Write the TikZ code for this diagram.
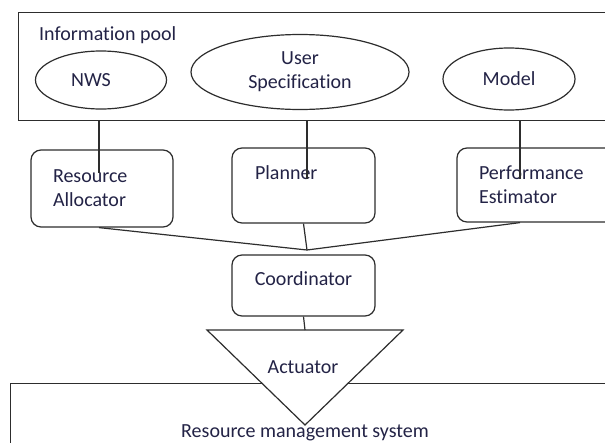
\documentclass[tikz,border=0pt]{standalone}
\usepackage{fontspec}
\setmainfont[Ligatures=NoCommon]{Carlito}
\usetikzlibrary{shapes.geometric}
\definecolor{txtcol}{RGB}{35,35,70}
\definecolor{lncol}{RGB}{45,45,45}
\begin{document}
\begin{tikzpicture}[x=1pt,y=-1pt,
  every node/.style={font=\fontsize{20}{24}\selectfont, text=txtcol},
  ln/.style={draw=lncol, line width=1.2pt},
  pool/.style={ln, rectangle, inner sep=0pt, anchor=north west},
  oval/.style={ln, ellipse, inner sep=0pt, align=center},
  rbox/.style={ln, rectangle, rounded corners=10pt, align=left, inner ysep=3pt},
  plain/.style={inner sep=0pt}
]
\clip (0,0) rectangle (605,442);
\fill[white] (0,0) rectangle (605,442);

% information pool
\node[pool, minimum width=600pt, minimum height=108pt] (pool) at (18,12) {};
\node[plain, anchor=base west] (pooltxt) at (39,40) {Information pool};
\node[oval, minimum width=131pt, minimum height=58pt] (nws) at (101,80) {NWS\hspace{20pt}};
\node[oval, minimum width=218pt, minimum height=75pt] (spec) at (300,72) {User\\Specification};
\node[oval, minimum width=132pt, minimum height=62pt] (model) at (509,79) {Model};

% middle boxes
\node[rbox, text width=98pt, inner xsep=22pt, minimum height=77pt] (ra) at (102,188.5) {Resource\\Allocator};
\node[rbox, text width=97pt, inner xsep=23pt, minimum height=75pt, text depth=25pt] (pl) at (303.5,185.5) {Planner};
\node[rbox, text width=116pt, inner xsep=22pt, minimum height=74pt] (pe) at (537,185) {Performance\\Estimator};
\node[rbox, align=center, minimum width=143pt, minimum height=61pt, text depth=13pt] (co) at (303.5,285.5) {Coordinator};

% vertical links from the pool
\coordinate (t1) at (99,173);
\coordinate (t2) at (307,179);
\coordinate (t3) at (520,179);
\draw[ln] (pool.south -| t1) -- (t1);
\draw[ln] (pool.south -| t2) -- (t2);
\draw[ln] (pool.south -| t3) -- (t3);

% converging links
\coordinate (J) at (307,250);
\draw[ln] (ra.south -| t1) -- (J);
\draw[ln] (pl.south) -- (J);
\draw[ln] (pe.south -| t3) -- (J);

% resource management system
\node[pool, minimum width=620pt, minimum height=100pt] (rms) at (10,383) {};
\node[plain, anchor=base] (rmstxt) at (305,437) {Resource management system};

% actuator
\coordinate (tl) at (207,330);
\coordinate (tr) at (403,330);
\coordinate (tb) at (305,425);
\coordinate (tm) at (305,330);
\filldraw[ln, fill=white, line join=miter] (tl) -- (tr) -- (tb) -- cycle;
\node[plain] (act) at (303,367) {Actuator};
\draw[ln] (co.south) -- (tm);
\end{tikzpicture}
\end{document}
